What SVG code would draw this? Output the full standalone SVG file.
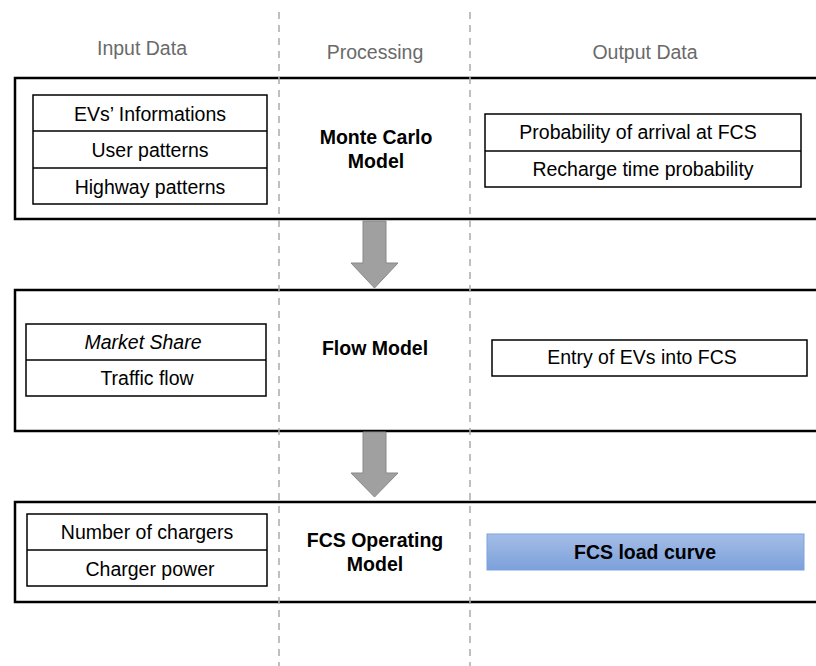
<svg xmlns="http://www.w3.org/2000/svg" width="816" height="666" viewBox="0 0 816 666">
<defs>
<linearGradient id="blue" x1="0" y1="0" x2="0" y2="1">
<stop offset="0" stop-color="#a4bde6"/>
<stop offset="1" stop-color="#7ca0db"/>
</linearGradient>
<style>
text{font-family:"Liberation Sans",Arial,sans-serif;font-size:19.5px;fill:#000;text-anchor:middle}
.hdr{fill:#6a6a6a;font-size:19.5px}
.b{font-weight:bold}
.i{font-style:italic}
.stage{fill:#fff;stroke:#000;stroke-width:2.5}
.box{fill:#fff;stroke:#000;stroke-width:1.5}
.div{stroke:#000;stroke-width:1.5}
.dash{stroke:#aaa;stroke-width:1.5;stroke-dasharray:7,6}
.arrow{fill:#a0a0a0;stroke:#888;stroke-width:1}
</style>
</defs>
<rect width="816" height="666" fill="#fff"/>
<g id="stage1"><rect class="stage" x="15" y="78" width="820" height="141"/></g>
<g id="stage2"><rect class="stage" x="15" y="290" width="820" height="141"/></g>
<g id="stage3"><rect class="stage" x="15" y="502" width="820" height="100"/></g>
<g id="dividers">
<line class="dash" x1="279" y1="12" x2="279" y2="666"/>
<line class="dash" x1="470" y1="12" x2="470" y2="666"/>
</g>
<g id="headers">
<text class="hdr" x="142" y="55">Input Data</text>
<text class="hdr" x="375" y="59">Processing</text>
<text class="hdr" x="645" y="59">Output Data</text>
</g>
<g id="input1">
<rect class="box" x="33" y="95" width="234" height="109"/>
<line class="div" x1="33" y1="131" x2="267" y2="131"/>
<line class="div" x1="33" y1="168" x2="267" y2="168"/>
<text x="150" y="121">EVs’ Informations</text>
<text x="150" y="157">User patterns</text>
<text x="150" y="194">Highway patterns</text>
</g>
<g id="proc1">
<text class="b" x="376" y="144">Monte Carlo</text>
<text class="b" x="376" y="168">Model</text>
</g>
<g id="output1">
<rect class="box" x="485" y="114" width="316" height="73"/>
<line class="div" x1="485" y1="151" x2="801" y2="151"/>
<text x="638" y="139">Probability of arrival at FCS</text>
<text x="643" y="176">Recharge time probability</text>
</g>
<g id="input2">
<rect class="box" x="26" y="324" width="240" height="72"/>
<line class="div" x1="26" y1="360" x2="266" y2="360"/>
<text class="i" x="143" y="349">Market Share</text>
<text x="147" y="385">Traffic flow</text>
</g>
<g id="proc2"><text class="b" x="375" y="355">Flow Model</text></g>
<g id="output2">
<rect class="box" x="492" y="340" width="315" height="36"/>
<text x="642" y="364">Entry of EVs into FCS</text>
</g>
<g id="input3">
<rect class="box" x="27" y="514" width="240" height="72"/>
<line class="div" x1="27" y1="550" x2="267" y2="550"/>
<text x="147" y="539">Number of chargers</text>
<text x="150" y="576">Charger power</text>
</g>
<g id="proc3">
<text class="b" x="375" y="547">FCS Operating</text>
<text class="b" x="375" y="571">Model</text>
</g>
<g id="output3">
<rect x="487" y="534" width="317" height="36" fill="url(#blue)" stroke="#7aa3e0" stroke-width="1"/>
<text class="b" x="645" y="559">FCS load curve</text>
</g>
<g id="connectors">
<polygon class="arrow" points="363,221 386,221 386,263 398,263 374.5,288 351,263 363,263"/>
<polygon class="arrow" points="363,432 386,432 386,473 398,473 374.5,497 351,473 363,473"/>
</g>
</svg>
